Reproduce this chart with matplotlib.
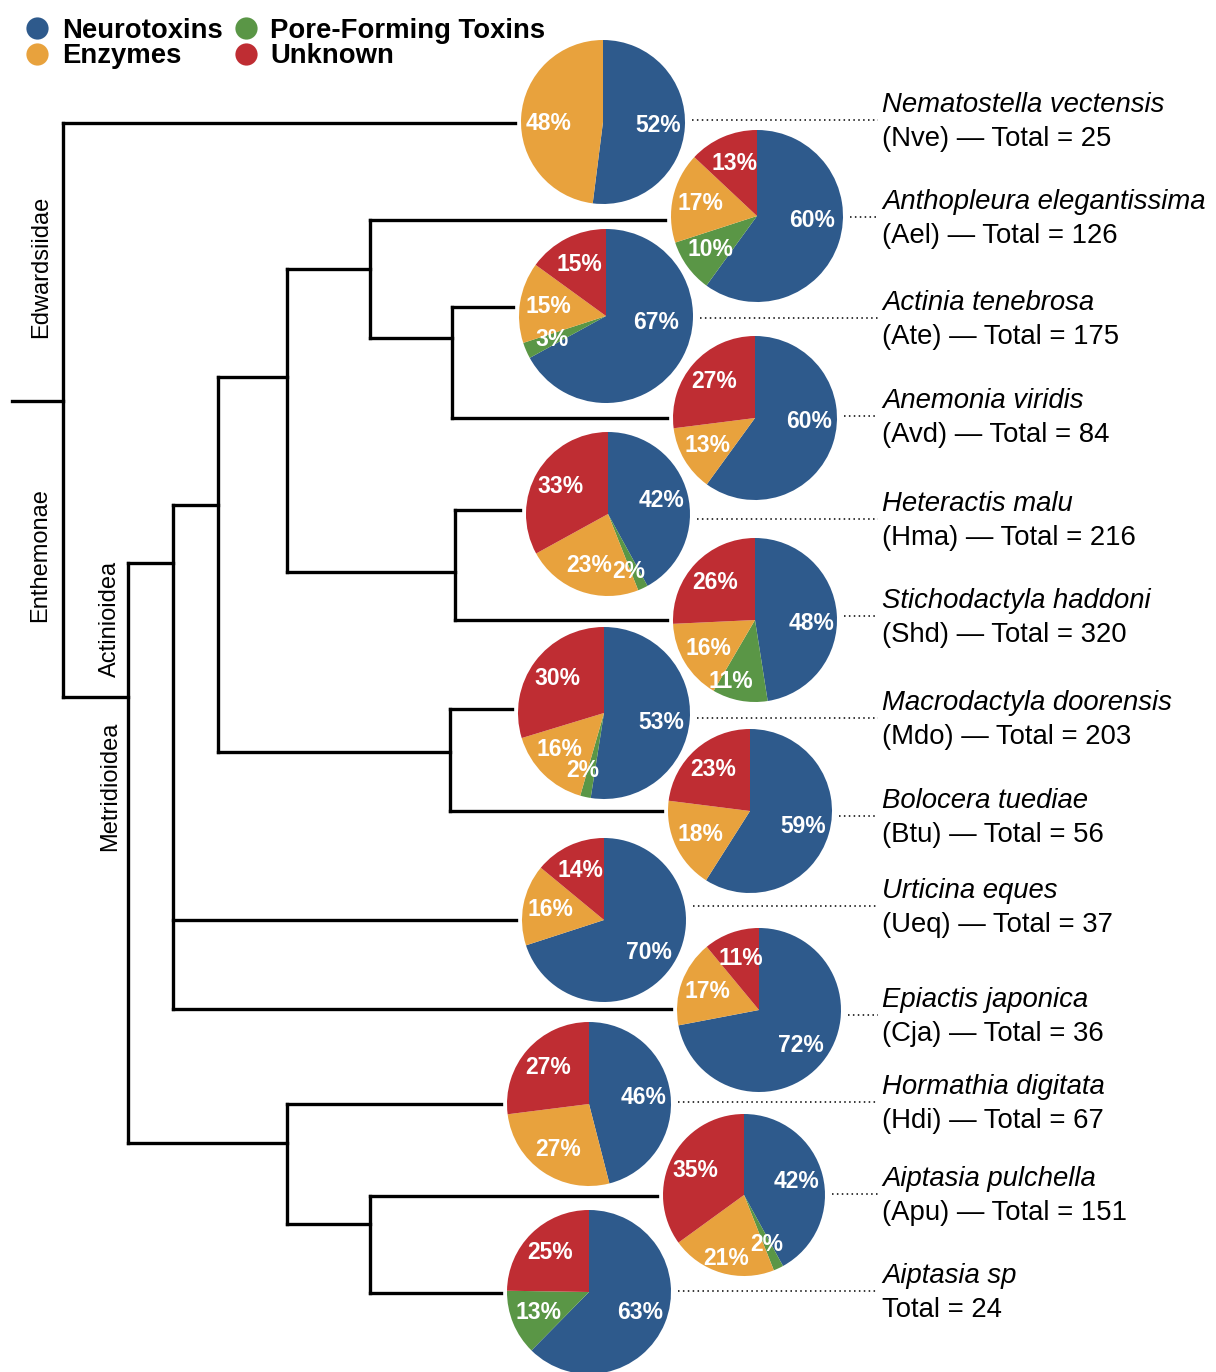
import matplotlib
matplotlib.use("Agg")
import matplotlib.pyplot as plt
from matplotlib.lines import Line2D

# ---- data -------------------------------------------------------------
categories = ["Neurotoxins", "Pore-Forming Toxins", "Enzymes", "Unknown"]
colors = ["#2E5A8C", "#5A9646", "#E8A23D", "#BF2D33"]

species = ["Nematostella vectensis", "Anthopleura elegantissima",
           "Actinia tenebrosa", "Anemonia viridis", "Heteractis malu",
           "Stichodactyla haddoni", "Macrodactyla doorensis",
           "Bolocera tuediae", "Urticina eques", "Epiactis japonica",
           "Hormathia digitata", "Aiptasia pulchella", "Aiptasia sp"]
codes = ["Nve", "Ael", "Ate", "Avd", "Hma", "Shd", "Mdo", "Btu", "Ueq",
         "Cja", "Hdi", "Apu", None]
totals = [25, 126, 175, 84, 216, 320, 203, 56, 37, 36, 67, 151, 24]

neurotoxins = [52, 60, 67, 60, 42, 48, 53, 59, 70, 72, 46, 42, 63]
pore_forming = [0, 10, 3, 0, 2, 11, 2, 0, 0, 0, 0, 2, 13]
enzymes = [48, 17, 15, 13, 23, 16, 16, 18, 16, 17, 27, 21, 0]
unknown = [0, 13, 15, 27, 33, 26, 30, 23, 14, 11, 27, 35, 25]

clades = ["Edwardsiidae", "Enthemonae", "Actinioidea", "Metridioidea"]

# ---- layout (pixel space, y grows downward) ---------------------------
W, H = 1216, 1372
pie_x = [603, 757, 606, 755, 608, 755, 604, 750, 604, 759, 589, 744, 589]
pie_y = [122, 216, 316, 418, 514, 620, 713, 811, 920, 1010, 1104, 1195, 1292]
pie_r = [82, 86, 87, 82, 82, 82, 86, 82, 82, 82, 82, 81, 82]
branch_y = [123, 220, 307, 418, 510, 620, 709, 811, 920, 1009, 1104, 1196, 1293]
label_y = [120, 217, 318, 416, 519, 616, 718, 816, 906, 1015, 1102, 1194, 1291]
text_x = 882

# hand placement of a few percentage labels: (row, category) -> (dx, dy)
pct_nudge = {
    (0, 2): (0, 5), (1, 0): (0, -13), (2, 0): (0, -23), (3, 0): (2, -13),
    (4, 1): (-3, 8), (5, 0): (2, 8), (5, 1): (-14, 8), (6, 0): (0, 5),
    (6, 1): (-9, 1), (6, 2): (-4, -5), (11, 2): (-3, 11),
}

# tree topology: (node_x, stem_y, children); ints refer to species rows
tree = (63, 401, [
    0,
    (128, 697, [
        (173, 563, [
            (218, 505, [
                (287, 377, [
                    (370, 269, [1, (452, 338, [2, 3])]),
                    (455, 572, [4, 5]),
                ]),
                (450, 752, [6, 7]),
            ]),
            8, 9,
        ]),
        (287, 1143, [10, (370, 1224, [11, 12])]),
    ]),
])
root_x = 12
clade_pos = [(41, 267), (40, 555), (110, 619), (110, 786)]

FONT = "Liberation Sans"

fig = plt.figure(figsize=(W / 100, H / 100), dpi=100)
ax = fig.add_axes([0, 0, 1, 1])

line_kw = dict(color="black", lw=2.4, solid_capstyle="projecting", zorder=1)


def node_y(n):
    return branch_y[n] if isinstance(n, int) else n[1]


def draw_node(n, parent_x):
    if isinstance(n, int):
        end = pie_x[n] - pie_r[n] - 6
        ax.plot([parent_x, end], [branch_y[n], branch_y[n]], **line_kw)
        return
    x, y, children = n
    ax.plot([parent_x, x], [y, y], **line_kw)
    ys = [node_y(c) for c in children]
    ax.plot([x, x], [min(ys), max(ys)], **line_kw)
    for c in children:
        draw_node(c, x)


draw_node(tree, root_x)

# ---- pies ---------------------------------------------------------------
for i in range(len(species)):
    vals = [neurotoxins[i], pore_forming[i], enzymes[i], unknown[i]]
    keep = [k for k, v in enumerate(vals) if v > 0]
    v = [vals[k] for k in keep]
    c = [colors[k] for k in keep]
    tot = sum(v)
    _, _, autotexts = ax.pie(
        v, colors=c, center=(pie_x[i], pie_y[i]), radius=pie_r[i],
        startangle=-90, counterclock=True, frame=True,
        autopct=lambda p, t=tot: f"{p * t / 100:.0f}%",
        pctdistance=0.67,
        wedgeprops=dict(linewidth=0, zorder=2),
        textprops=dict(color="white", fontweight="bold", fontsize=16.5,
                       family=FONT, zorder=3))
    for k, txt in zip(keep, autotexts):
        if (i, k) in pct_nudge:
            dx, dy = pct_nudge[(i, k)]
            px, py = txt.get_position()
            txt.set_position((px + dx, py + dy))

    # dotted leader to the species label
    ax.plot([pie_x[i] + pie_r[i] + 7, text_x - 4], [label_y[i], label_y[i]],
            color="black", lw=1.1, linestyle=(0, (1, 2.2)), zorder=1)

    ax.text(text_x, label_y[i] - 8, species[i], fontsize=19.8,
            style="italic", family=FONT, va="baseline", ha="left")
    second = (f"({codes[i]}) \u2014 Total = {totals[i]}" if codes[i]
              else f"Total = {totals[i]}")
    ax.text(text_x, label_y[i] + 26, second, fontsize=19.8, family=FONT,
            va="baseline", ha="left")

# ---- clade names --------------------------------------------------------
for name, (cx, cy) in zip(clades, clade_pos):
    ax.text(cx, cy, name, rotation=90, ha="center", va="center",
            fontsize=17, family=FONT)

# ---- legend -------------------------------------------------------------
handles = [Line2D([], [], marker="o", ls="", markersize=16,
                  markerfacecolor=col, markeredgewidth=0)
           for col in colors]
order = [0, 2, 1, 3]
leg = ax.legend([handles[k] for k in order], [categories[k] for k in order],
                ncol=2, loc="upper left",
                bbox_to_anchor=(26 / W, 1 - 18 / H),
                bbox_transform=fig.transFigure, frameon=False,
                borderpad=0, borderaxespad=0, handlelength=0.8,
                handletextpad=0.5, columnspacing=0.44, labelspacing=-0.02,
                prop=dict(family=FONT, weight="bold", size=19.8))

ax.set_xlim(0, W)
ax.set_ylim(H, 0)
ax.set_aspect("equal")
ax.axis("off")

fig.savefig("out.png", dpi=100)
